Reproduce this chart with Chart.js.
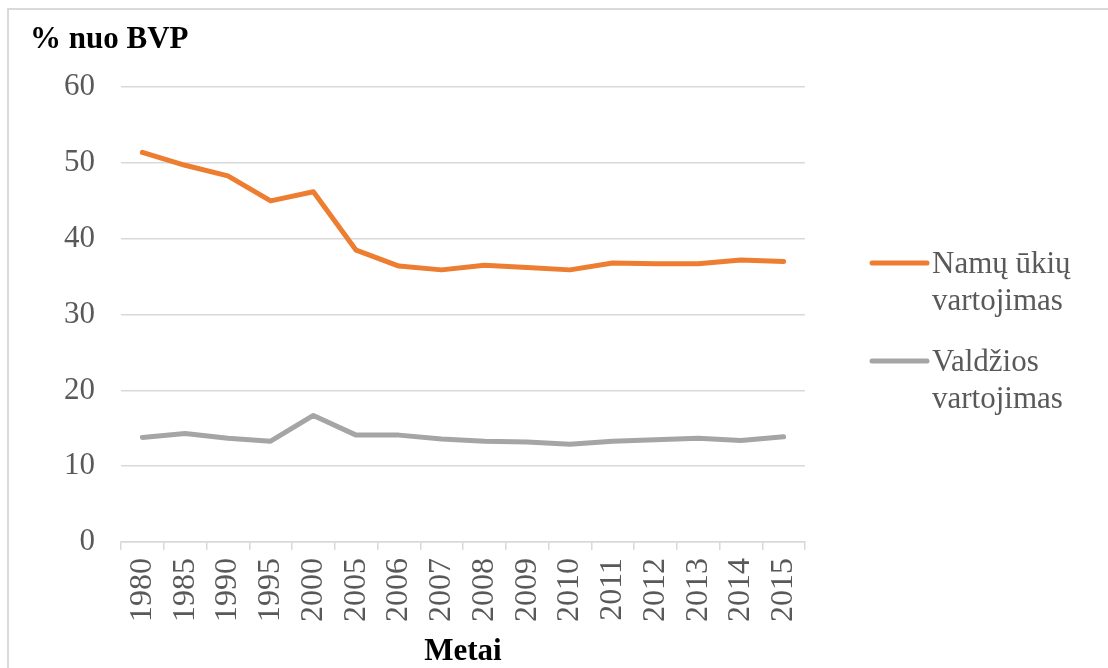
<!DOCTYPE html>
<html lang="lt">
<head>
<meta charset="utf-8">
<title>Namų ūkių ir valdžios vartojimas, % nuo BVP</title>
<script src="https://cdn.jsdelivr.net/npm/chart.js@4.4.1/dist/chart.umd.min.js"></script>
<style>
  html, body { margin: 0; padding: 0; background: #ffffff; }
  #wrap { position: relative; width: 1108px; height: 668px; }
</style>
</head>
<body>
<div id="wrap"><canvas id="chart" width="1108" height="668"></canvas></div>
<script>
// Metai
const years = ['1980', '1985', '1990', '1995', '2000', '2005', '2006', '2007',
               '2008', '2009', '2010', '2011', '2012', '2013', '2014', '2015'];

// Namų ūkių vartojimas, % nuo BVP
const householdConsumption = [51.4, 49.7, 48.3, 45.0, 46.2, 38.5, 36.4, 35.9,
                              36.5, 36.2, 35.9, 36.8, 36.7, 36.7, 37.2, 37.0];

// Valdžios vartojimas, % nuo BVP
const governmentConsumption = [13.8, 14.3, 13.7, 13.3, 16.7, 14.1, 14.1, 13.6,
                               13.3, 13.2, 12.9, 13.3, 13.5, 13.7, 13.4, 13.9];

// Legendos užrašai (po dvi eilutes)
const seriesNames = [['Namų ūkių', 'vartojimas'], ['Valdžios', 'vartojimas']];

// Vertikaliosios ašies padalos
const yTicks = [0, 10, 20, 30, 40, 50, 60];

const yAxisTitle = '% nuo BVP';
const xAxisTitle = 'Metai';

const FONT = "'Liberation Serif', 'Times New Roman', serif";
const ORANGE = '#ED7D31';
const GREY = '#A5A5A5';
const TEXT = '#595959';
const GRID = '#D9D9D9';

// Plona rėmelio linija kairėje ir viršuje
const framePlugin = {
  id: 'frame',
  beforeDraw(chart) {
    const ctx = chart.ctx;
    ctx.save();
    ctx.strokeStyle = GRID;
    ctx.lineWidth = 2;
    ctx.beginPath();
    ctx.moveTo(8, chart.height);
    ctx.lineTo(8, 9);
    ctx.lineTo(chart.width, 9);
    ctx.stroke();
    ctx.restore();
  }
};

// Legenda dešinėje su dviejų eilučių užrašais
const sideLegendPlugin = {
  id: 'sideLegend',
  afterDraw(chart) {
    const ctx = chart.ctx;
    const area = chart.chartArea;
    const lineX0 = area.right + 67;
    const lineX1 = lineX0 + 55;
    const textX = lineX1 + 5;
    const lineGap = 37;
    const startY = [263, 361];
    ctx.save();
    ctx.font = "31px " + FONT;
    ctx.fillStyle = TEXT;
    ctx.textAlign = 'left';
    ctx.textBaseline = 'alphabetic';
    chart.data.datasets.forEach((ds, i) => {
      const y = startY[i];
      ctx.strokeStyle = ds.borderColor;
      ctx.lineWidth = 5;
      ctx.lineCap = 'round';
      ctx.beginPath();
      ctx.moveTo(lineX0, y);
      ctx.lineTo(lineX1, y);
      ctx.stroke();
      seriesNames[i].forEach((line, k) => {
        ctx.fillText(line, textX, y + 10 + k * lineGap);
      });
    });
    ctx.restore();
  }
};

new Chart(document.getElementById('chart'), {
  type: 'line',
  data: {
    labels: years,
    datasets: [
      {
        label: seriesNames[0].join(' '),
        data: householdConsumption,
        borderColor: ORANGE,
        backgroundColor: ORANGE,
        borderWidth: 5,
        pointRadius: 0,
        borderCapStyle: 'round',
        borderJoinStyle: 'round',
        tension: 0
      },
      {
        label: seriesNames[1].join(' '),
        data: governmentConsumption,
        borderColor: GREY,
        backgroundColor: GREY,
        borderWidth: 5,
        pointRadius: 0,
        borderCapStyle: 'round',
        borderJoinStyle: 'round',
        tension: 0
      }
    ]
  },
  options: {
    responsive: false,
    animation: false,
    devicePixelRatio: 1,
    layout: {
      padding: { left: 30, right: 303, top: 0, bottom: 0 }
    },
    plugins: {
      legend: { display: false },
      tooltip: { enabled: false },
      title: {
        display: true,
        text: yAxisTitle,
        align: 'start',
        color: '#000000',
        font: { family: FONT, size: 31, weight: 'bold' },
        padding: { top: 21, bottom: 29 }
      }
    },
    scales: {
      x: {
        type: 'category',
        offset: true,
        afterFit(scale) { scale.height = 126; },
        grid: {
          offset: true,
          drawOnChartArea: false,
          drawTicks: true,
          tickLength: 8,
          color: GRID,
          lineWidth: 1.5
        },
        border: { display: true, color: GRID, width: 1.5 },
        ticks: {
          autoSkip: false,
          minRotation: 90,
          maxRotation: 90,
          padding: 8,
          color: TEXT,
          font: { family: FONT, size: 32 }
        },
        title: {
          display: true,
          text: xAxisTitle,
          color: '#000000',
          font: { family: FONT, size: 31, weight: 'bold' },
          padding: { top: 0, bottom: -3 }
        }
      },
      y: {
        min: 0,
        max: 60,
        afterFit(scale) { scale.width = 91; },
        afterBuildTicks(scale) { scale.ticks = yTicks.map(v => ({ value: v })); },
        grid: {
          drawTicks: false,
          color: GRID,
          lineWidth: 1.5
        },
        border: { display: false },
        ticks: {
          padding: 26,
          color: TEXT,
          font: { family: FONT, size: 31 }
        }
      }
    }
  },
  plugins: [framePlugin, sideLegendPlugin]
});
</script>
</body>
</html>
